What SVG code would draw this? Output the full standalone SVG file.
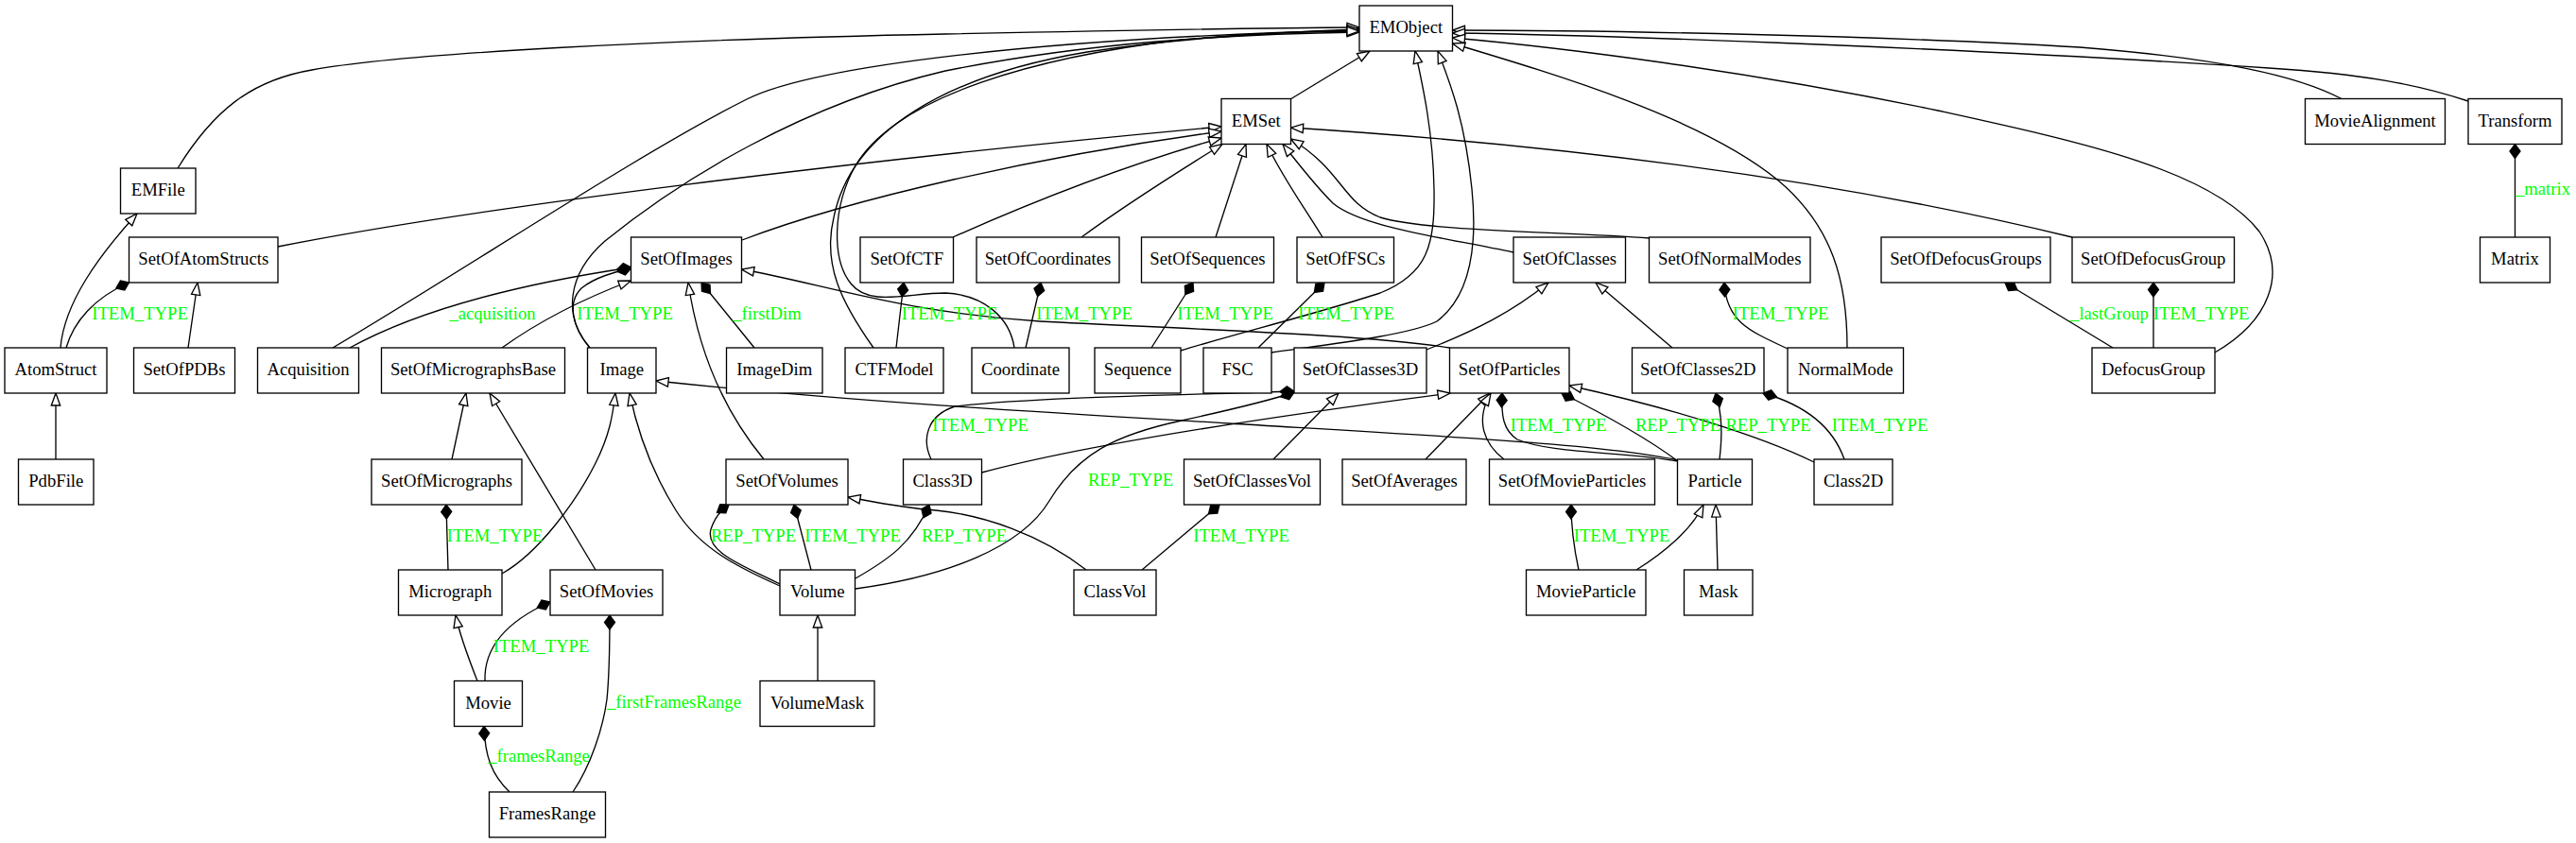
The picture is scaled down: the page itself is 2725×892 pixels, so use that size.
<svg xmlns="http://www.w3.org/2000/svg" width="2725" height="892" viewBox="0 0 2725 892">
<style>
.n rect{fill:#fff;stroke:#000;stroke-width:1.33}
.n text{font-family:"Liberation Serif",serif;font-size:18.67px;text-anchor:middle;fill:#000}
#edges path{fill:none;stroke:#000;stroke-width:1.33}
#edges path.i{marker-end:url(#tri)}
#edges path.c{marker-end:url(#dia)}
#labels text{font-family:"Liberation Serif",serif;font-size:18.67px;text-anchor:middle;fill:#00ff00}
</style>
<defs>
<marker id="tri" markerUnits="userSpaceOnUse" markerWidth="20" markerHeight="20" refX="14" refY="6" orient="auto" overflow="visible"><path d="M1,1.3 L14,6 L1,10.7 z" fill="#fff" stroke="#000" stroke-width="1.33"/></marker>
<marker id="dia" markerUnits="userSpaceOnUse" markerWidth="20" markerHeight="20" refX="15" refY="6" orient="auto" overflow="visible"><path d="M0,6 L7.5,0.5 L15,6 L7.5,11.5 z" fill="#000" stroke="#000" stroke-width="1.33"/></marker>
</defs>
<rect width="2725" height="892" fill="#fff"/>
<g id="edges">
<path class="i" d="M188,178 C225,118 265,85 330,74 C430,56 700,42 1000,36 C1200,32 1350,29 1438,29"/>
<path class="i" d="M64,368 C68,320 105,270 145,226"/>
<path class="i" d="M59,486 L59,416"/>
<path class="i" d="M294,261 C500,220 900,170 1292,134"/>
<path class="i" d="M199,368 L209,299"/>
<path class="i" d="M352,368 C500,280 680,160 790,105 C860,70 1100,40 1438,32"/>
<path class="i" d="M624,368 C595,335 600,290 640,255 C720,190 850,110 1000,75 C1150,45 1300,36 1438,34"/>
<path class="i" d="M531,368 C570,340 620,315 667.5,297"/>
<path class="i" d="M785,254 C900,210 1100,165 1292,139"/>
<path class="i" d="M1008,251 C1100,210 1200,172 1292,146"/>
<path class="i" d="M1144,251 C1200,210 1250,180 1293,152.5"/>
<path class="i" d="M1286,251 L1318,152.5"/>
<path class="i" d="M1399,251 C1380,220 1355,185 1340,152.5"/>
<path class="i" d="M1601,267 C1520,250 1440,240 1410,215 C1390,195 1375,175 1357,152.5"/>
<path class="i" d="M1745,252 C1650,245 1510,245 1460,230 C1420,215 1420,180 1365.5,147"/>
<path class="i" d="M2192,251 C1900,180 1600,150 1365.5,135"/>
<path class="i" d="M1365,105 L1449,54"/>
<path class="i" d="M2477,104.5 C2430,80 2350,62 2200,50 C2000,38 1700,32 1536.5,32"/>
<path class="i" d="M2611,107 C2560,90 2500,78 2400,72 C2100,52 1700,37 1536.5,35"/>
<path class="i" d="M2343,373 C2400,340 2420,290 2390,245 C2340,180 2200,150 2050,117 C1850,75 1650,50 1536.5,40"/>
<path class="i" d="M1954,368 C1954,300 1940,240 1880,190 C1800,125 1650,80 1536.5,46"/>
<path class="i" d="M924,368 C890,320 870,280 882,230 C900,140 1000,80 1150,55 C1250,40 1350,34 1438,31"/>
<path class="i" d="M1073,368 C1068,335 1040,312 1000,310 C960,310 920,325 900,300 C880,275 880,220 905,175 C950,100 1100,60 1250,42 C1330,35 1390,33 1438,33"/>
<path class="i" d="M1249,371 C1300,355 1400,330 1460,310 C1510,290 1518,260 1517,200 C1516,140 1505,90 1497,54"/>
<path class="i" d="M1345,373 C1400,365 1490,355 1520,340 C1560,310 1562,250 1557,200 C1550,130 1535,90 1521,54"/>
<path class="i" d="M1509,370 C1560,350 1600,330 1638,299"/>
<path class="i" d="M1769,368 L1688,299"/>
<path class="i" d="M1533.5,368 C1450,355 1300,350 1100,340 C950,330 870,300 784.5,285"/>
<path class="i" d="M478,486 L493,416"/>
<path class="i" d="M630,603 L518,416"/>
<path class="i" d="M531,607 C570,585 610,530 630,490 C645,460 648,440 651,416"/>
<path class="i" d="M505,720.5 C497,700 487,675 482,651"/>
<path class="i" d="M825,620 C780,600 740,580 715,540 C690,500 675,460 666,416"/>
<path class="i" d="M808,486 C770,440 740,380 728,299"/>
<path class="i" d="M865,720.5 L865,651"/>
<path class="i" d="M1149,603 C1100,565 1040,545 990,540 C950,537 920,530 897,526"/>
<path class="i" d="M1038.5,500 C1150,470 1350,440 1534,416"/>
<path class="i" d="M1347,486 L1416,416"/>
<path class="i" d="M1508,486 L1576,416"/>
<path class="i" d="M1591,486 C1570,470 1560,445 1577,416"/>
<path class="i" d="M1775,487 C1700,470 1500,460 1300,448 C1100,436 900,425 694,403"/>
<path class="i" d="M1919,489 C1860,460 1760,430 1660,408"/>
<path class="i" d="M1731,603 C1760,585 1790,560 1802,534"/>
<path class="i" d="M1817,603 L1815,534"/>
<path class="c" d="M70,368 C78,340 100,315 136.5,299"/>
<path class="c" d="M624,368 C605,345 600,320 615,305 C630,293 650,288 667.5,284"/>
<path class="c" d="M370,368 C430,335 520,305 667.5,283"/>
<path class="c" d="M798,368 L742,299"/>
<path class="c" d="M948,368 L956,299"/>
<path class="c" d="M1085,368 L1101,299"/>
<path class="c" d="M1218,368 L1262,299"/>
<path class="c" d="M1331,368 L1401,299"/>
<path class="c" d="M1891,369 C1850,350 1826,340 1824,299"/>
<path class="c" d="M2235,368 L2121,299"/>
<path class="c" d="M2278,368 L2278,299"/>
<path class="c" d="M2660.5,251 L2660.5,152.5"/>
<path class="c" d="M985,486 C975,465 980,440 1010,430 C1100,420 1250,418 1369,414"/>
<path class="c" d="M905,623 C1000,610 1080,580 1110,530 C1140,480 1180,460 1250,445 C1300,434 1340,425 1369,415"/>
<path class="c" d="M825,618 C790,600 745,585 752,560 C756,548 762,540 771,534"/>
<path class="c" d="M858,603 L840,534"/>
<path class="c" d="M905,612 C940,592 965,575 983,534"/>
<path class="c" d="M1208,603 L1290,534"/>
<path class="c" d="M1775,488 C1720,478 1640,480 1605,465 C1590,455 1588,440 1589,416"/>
<path class="c" d="M1775,488 C1740,462 1700,440 1652,416"/>
<path class="c" d="M1819,486 C1822,460 1822,440 1815,416"/>
<path class="c" d="M1951,486 C1940,455 1915,430 1865,416"/>
<path class="c" d="M1670,603 C1665,580 1662,560 1662,534"/>
<path class="c" d="M474,603 L472,534"/>
<path class="c" d="M513,720.5 C512,690 530,660 582,637"/>
<path class="c" d="M606,838 C625,810 638,770 642,740 C645,710 645,680 645,651"/>
<path class="c" d="M539,838 C520,820 513,800 512,768.5"/>
</g>
<g id="labels">
<text x="148" y="338">ITEM_TYPE</text>
<text x="521" y="338">_acquisition</text>
<text x="661" y="338">ITEM_TYPE</text>
<text x="811.5" y="338">_firstDim</text>
<text x="1004.5" y="338">ITEM_TYPE</text>
<text x="1147" y="338">ITEM_TYPE</text>
<text x="1296" y="338">ITEM_TYPE</text>
<text x="1424" y="338">ITEM_TYPE</text>
<text x="1883.5" y="338">ITEM_TYPE</text>
<text x="2231.5" y="338">_lastGroup</text>
<text x="2328.5" y="338">ITEM_TYPE</text>
<text x="2690" y="206">_matrix</text>
<text x="1037" y="456">ITEM_TYPE</text>
<text x="1648.5" y="456">ITEM_TYPE</text>
<text x="1775" y="456">REP_TYPE</text>
<text x="1870.5" y="456">REP_TYPE</text>
<text x="1988.5" y="456">ITEM_TYPE</text>
<text x="1196" y="514">REP_TYPE</text>
<text x="797" y="572.5">REP_TYPE</text>
<text x="902" y="572.5">ITEM_TYPE</text>
<text x="1020" y="572.5">REP_TYPE</text>
<text x="1313" y="572.5">ITEM_TYPE</text>
<text x="1715.5" y="572.5">ITEM_TYPE</text>
<text x="523.5" y="572.5">ITEM_TYPE</text>
<text x="572.5" y="690">ITEM_TYPE</text>
<text x="713" y="749">_firstFramesRange</text>
<text x="570" y="806">_framesRange</text>
</g>
<g id="n-EMObject" class="n"><rect x="1438" y="6" width="98.5" height="48"/><text x="1487.25" y="35">EMObject</text></g>
<g id="n-EMSet" class="n"><rect x="1292" y="104.5" width="73.5" height="48"/><text x="1328.75" y="133.5">EMSet</text></g>
<g id="n-MovieAlignment" class="n"><rect x="2438.5" y="104.5" width="148" height="48"/><text x="2512.5" y="133.5">MovieAlignment</text></g>
<g id="n-Transform" class="n"><rect x="2611" y="104.5" width="99" height="48"/><text x="2660.5" y="133.5">Transform</text></g>
<g id="n-EMFile" class="n"><rect x="127.5" y="178" width="79.5" height="48"/><text x="167.25" y="207">EMFile</text></g>
<g id="n-SetOfAtomStructs" class="n"><rect x="136.5" y="251" width="157.5" height="48"/><text x="215.25" y="280">SetOfAtomStructs</text></g>
<g id="n-SetOfImages" class="n"><rect x="667.5" y="251" width="117" height="48"/><text x="726" y="280">SetOfImages</text></g>
<g id="n-SetOfCTF" class="n"><rect x="910" y="251" width="98.5" height="48"/><text x="959.25" y="280">SetOfCTF</text></g>
<g id="n-SetOfCoordinates" class="n"><rect x="1033" y="251" width="151" height="48"/><text x="1108.5" y="280">SetOfCoordinates</text></g>
<g id="n-SetOfSequences" class="n"><rect x="1207.5" y="251" width="140" height="48"/><text x="1277.5" y="280">SetOfSequences</text></g>
<g id="n-SetOfFSCs" class="n"><rect x="1372" y="251" width="102.5" height="48"/><text x="1423.25" y="280">SetOfFSCs</text></g>
<g id="n-SetOfClasses" class="n"><rect x="1601" y="251" width="118.5" height="48"/><text x="1660.25" y="280">SetOfClasses</text></g>
<g id="n-SetOfNormalModes" class="n"><rect x="1744.5" y="251" width="170.5" height="48"/><text x="1829.75" y="280">SetOfNormalModes</text></g>
<g id="n-SetOfDefocusGroups" class="n"><rect x="1990" y="251" width="179" height="48"/><text x="2079.5" y="280">SetOfDefocusGroups</text></g>
<g id="n-SetOfDefocusGroup" class="n"><rect x="2192" y="251" width="171.5" height="48"/><text x="2277.75" y="280">SetOfDefocusGroup</text></g>
<g id="n-Matrix" class="n"><rect x="2623.5" y="251" width="74" height="48"/><text x="2660.5" y="280">Matrix</text></g>
<g id="n-AtomStruct" class="n"><rect x="5" y="368" width="108" height="48"/><text x="59" y="397">AtomStruct</text></g>
<g id="n-SetOfPDBs" class="n"><rect x="141.5" y="368" width="107" height="48"/><text x="195" y="397">SetOfPDBs</text></g>
<g id="n-Acquisition" class="n"><rect x="272.5" y="368" width="107" height="48"/><text x="326" y="397">Acquisition</text></g>
<g id="n-SetOfMicrographsBase" class="n"><rect x="403.5" y="368" width="194" height="48"/><text x="500.5" y="397">SetOfMicrographsBase</text></g>
<g id="n-Image" class="n"><rect x="621.5" y="368" width="72.5" height="48"/><text x="657.75" y="397">Image</text></g>
<g id="n-ImageDim" class="n"><rect x="768.5" y="368" width="101.5" height="48"/><text x="819.25" y="397">ImageDim</text></g>
<g id="n-CTFModel" class="n"><rect x="894" y="368" width="104" height="48"/><text x="946" y="397">CTFModel</text></g>
<g id="n-Coordinate" class="n"><rect x="1028" y="368" width="103" height="48"/><text x="1079.5" y="397">Coordinate</text></g>
<g id="n-Sequence" class="n"><rect x="1158" y="368" width="91" height="48"/><text x="1203.5" y="397">Sequence</text></g>
<g id="n-FSC" class="n"><rect x="1273" y="368" width="72" height="48"/><text x="1309" y="397">FSC</text></g>
<g id="n-SetOfClasses3D" class="n"><rect x="1369" y="368" width="140" height="48"/><text x="1439" y="397">SetOfClasses3D</text></g>
<g id="n-SetOfParticles" class="n"><rect x="1533.5" y="368" width="126.5" height="48"/><text x="1596.75" y="397">SetOfParticles</text></g>
<g id="n-SetOfClasses2D" class="n"><rect x="1726.5" y="368" width="139.5" height="48"/><text x="1796.25" y="397">SetOfClasses2D</text></g>
<g id="n-NormalMode" class="n"><rect x="1891" y="368" width="122.5" height="48"/><text x="1952.25" y="397">NormalMode</text></g>
<g id="n-DefocusGroup" class="n"><rect x="2213" y="368" width="130" height="48"/><text x="2278" y="397">DefocusGroup</text></g>
<g id="n-PdbFile" class="n"><rect x="19.5" y="486" width="79.5" height="48"/><text x="59.25" y="515">PdbFile</text></g>
<g id="n-SetOfMicrographs" class="n"><rect x="393" y="486" width="159" height="48"/><text x="472.5" y="515">SetOfMicrographs</text></g>
<g id="n-SetOfVolumes" class="n"><rect x="768" y="486" width="129" height="48"/><text x="832.5" y="515">SetOfVolumes</text></g>
<g id="n-Class3D" class="n"><rect x="955.5" y="486" width="83" height="48"/><text x="997" y="515">Class3D</text></g>
<g id="n-SetOfClassesVol" class="n"><rect x="1252.5" y="486" width="144" height="48"/><text x="1324.5" y="515">SetOfClassesVol</text></g>
<g id="n-SetOfAverages" class="n"><rect x="1420" y="486" width="131" height="48"/><text x="1485.5" y="515">SetOfAverages</text></g>
<g id="n-SetOfMovieParticles" class="n"><rect x="1575.5" y="486" width="175" height="48"/><text x="1663" y="515">SetOfMovieParticles</text></g>
<g id="n-Particle" class="n"><rect x="1774.5" y="486" width="79" height="48"/><text x="1814" y="515">Particle</text></g>
<g id="n-Class2D" class="n"><rect x="1919" y="486" width="83" height="48"/><text x="1960.5" y="515">Class2D</text></g>
<g id="n-Micrograph" class="n"><rect x="421.5" y="603" width="109.5" height="48"/><text x="476.25" y="632">Micrograph</text></g>
<g id="n-SetOfMovies" class="n"><rect x="582" y="603" width="119" height="48"/><text x="641.5" y="632">SetOfMovies</text></g>
<g id="n-Volume" class="n"><rect x="825" y="603" width="79.5" height="48"/><text x="864.75" y="632">Volume</text></g>
<g id="n-ClassVol" class="n"><rect x="1136" y="603" width="87" height="48"/><text x="1179.5" y="632">ClassVol</text></g>
<g id="n-MovieParticle" class="n"><rect x="1614.5" y="603" width="126.5" height="48"/><text x="1677.75" y="632">MovieParticle</text></g>
<g id="n-Mask" class="n"><rect x="1781.5" y="603" width="72.5" height="48"/><text x="1817.75" y="632">Mask</text></g>
<g id="n-Movie" class="n"><rect x="480.5" y="720.5" width="72" height="48"/><text x="516.5" y="749.5">Movie</text></g>
<g id="n-VolumeMask" class="n"><rect x="804" y="720.5" width="121" height="48"/><text x="864.5" y="749.5">VolumeMask</text></g>
<g id="n-FramesRange" class="n"><rect x="517.5" y="838" width="123" height="48"/><text x="579" y="867">FramesRange</text></g>
</svg>
